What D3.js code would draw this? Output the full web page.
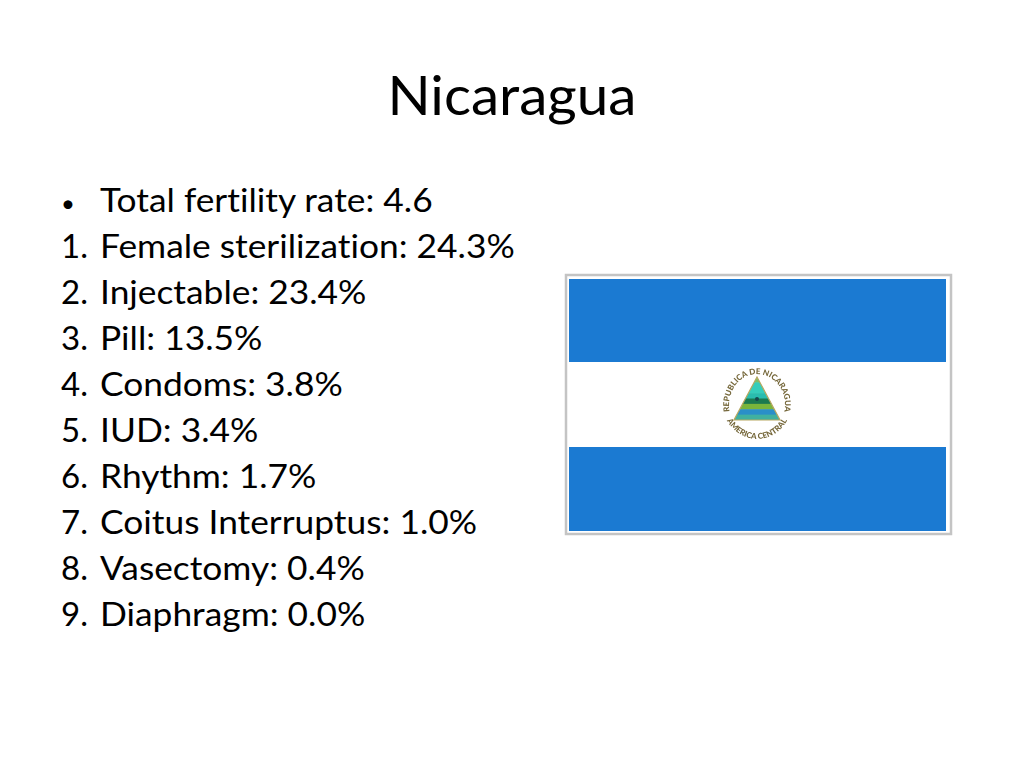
<!DOCTYPE html>
<html>
<head>
<meta charset="utf-8">
<script src="https://cdn.jsdelivr.net/npm/d3@7"></script>
<style>
html, body { margin: 0; padding: 0; background: #fff; }
svg { display: block; }
text { font-family: Lato, "Open Sans", sans-serif; fill: #000; font-variant-ligatures: none; }
</style>
</head>
<body>
<div id="slide"></div>
<script>
// Slide content
var title = "Nicaragua";
var headline = "Total fertility rate: 4.6";
var methods = ["Female sterilization", "Injectable", "Pill", "Condoms", "IUD", "Rhythm", "Coitus Interruptus", "Vasectomy", "Diaphragm"];
var shares = [24.3, 23.4, 13.5, 3.8, 3.4, 1.7, 1.0, 0.4, 0.0];
var flagBands = ["#1b7ad2", "#ffffff", "#1b7ad2"];
var triangleBands = ["#7cc06a", "#35cdbb", "#35cdbb", "#2bbcae", "#1e7a50", "#7ab53a", "#2a8fc8", "#3fb0a0"];

var width = 1024;
var height = 768;

var svg = d3.select("#slide").append("svg")
    .attr("width", width)
    .attr("height", height);

svg.append("text")
    .attr("x", 512)
    .attr("y", 115)
    .attr("text-anchor", "middle")
    .style("font-size", "54px")
    .attr("textLength", 249)
    .attr("lengthAdjust", "spacingAndGlyphs")
    .text(title);

// One row per line of the list, headline first
var rows = [headline].concat(methods.map(function(m, i) {
    return m + ": " + shares[i].toFixed(1) + "%";
}));

var rowScale = d3.scalePoint()
    .domain(d3.range(rows.length))
    .range([212, 626]);

var row = svg.selectAll("g.row")
    .data(rows)
    .enter().append("g")
    .attr("class", "row")
    .attr("transform", function(d, i) { return "translate(0," + rowScale(i) + ")"; });

row.append("text")
    .attr("x", 61)
    .style("font-size", function(d, i) { return i ? "33px" : "24px"; })
    .text(function(d, i) { return i ? i + "." : "\u2022"; });

var labels = row.append("text")
    .attr("x", 100)
    .style("font-size", "33.5px")
    .text(function(d) { return d; });

// Stretch the list to the width the slide font gives it
labels.each(function() {
    d3.select(this)
        .attr("textLength", this.getComputedTextLength() * 1.055)
        .attr("lengthAdjust", "spacingAndGlyphs");
});

// Flag
var flag = svg.append("g");

flag.append("rect")
    .attr("x", 566)
    .attr("y", 275)
    .attr("width", 385)
    .attr("height", 259)
    .attr("fill", "#fff")
    .attr("stroke", "#c4c4c4")
    .attr("stroke-width", 2.5);

var bandScale = d3.scaleBand()
    .domain(d3.range(flagBands.length))
    .range([279, 531]);

flag.selectAll("rect.band")
    .data(flagBands)
    .enter().append("rect")
    .attr("class", "band")
    .attr("x", 569)
    .attr("width", 377)
    .attr("y", function(d, i) { return bandScale(i); })
    .attr("height", bandScale.bandwidth())
    .attr("fill", function(d) { return d; })
    .attr("stroke", function(d) { return d == "#ffffff" ? d : "none"; })
    .attr("stroke-width", 2);

// Coat of arms
var defs = svg.append("defs");
defs.append("filter").attr("id", "soft").append("feGaussianBlur").attr("stdDeviation", 0.45);
defs.append("path").attr("id", "ringTop").attr("d", "M-24,17A28,31 0 1 1 24,17");
defs.append("path").attr("id", "ringBottom").attr("d", "M-34,6A35,38 0 0 0 34,6");
defs.append("clipPath").attr("id", "triClip").append("path").attr("d", "M0,-27L23,16L-23,16Z");

var arms = flag.append("g")
    .attr("transform", "translate(757,404)")
    .attr("filter", "url(#soft)");

[["#ringTop", "REPUBLICA DE NICARAGUA"], ["#ringBottom", "AMERICA CENTRAL"]].forEach(function(r) {
    arms.append("text")
        .attr("text-anchor", "middle")
        .style("font-size", "8px")
        .style("font-weight", "900")
        .style("fill", "#75673a")
        .append("textPath")
        .attr("href", r[0])
        .attr("startOffset", "50%")
        .text(r[1]);
});

var triScale = d3.scaleBand()
    .domain(d3.range(triangleBands.length))
    .range([-27, 16]);

arms.append("g")
    .attr("clip-path", "url(#triClip)")
    .selectAll("rect")
    .data(triangleBands)
    .enter().append("rect")
    .attr("x", -23)
    .attr("width", 46)
    .attr("y", function(d, i) { return triScale(i); })
    .attr("height", triScale.bandwidth() + 0.5)
    .attr("fill", function(d) { return d; });

arms.append("circle")
    .attr("cy", -5)
    .attr("r", 2)
    .attr("fill", "#17494f");

arms.append("path")
    .attr("d", "M0,-27L23,16L-23,16Z")
    .attr("fill", "none")
    .attr("stroke", "#b8a860")
    .attr("stroke-width", 1.2);
</script>
</body>
</html>
